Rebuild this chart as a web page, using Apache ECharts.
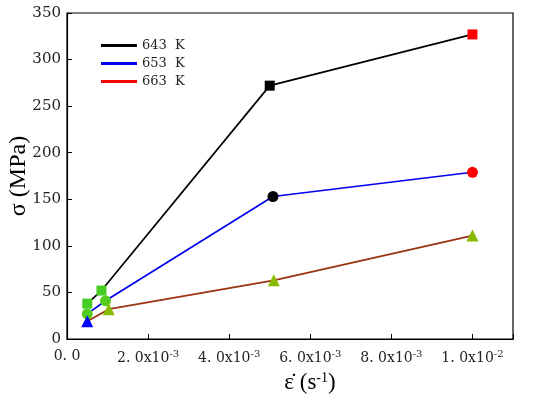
<!DOCTYPE html>
<html><head><meta charset="utf-8">
<script src="https://cdn.jsdelivr.net/npm/echarts@6/dist/echarts.min.js"></script>
<style>html,body{margin:0;padding:0;background:#fff}#c{width:550px;height:398px}</style>
</head><body><div id="c"></div>
<script>
const seriesNames = ['643 K', '653 K', '663 K'];
const lineColors = ['#000000', '#0000ee', '#993311'];
const legendColors = ['#000000', '#0000ee', '#ff0000'];
const symbols = ['rect', 'circle', 'triangle'];

const x643 = [0.0005, 0.00085, 0.005, 0.01];
const y643 = [38, 52, 272, 327];
const c643 = ['#44cc22', '#44cc22', '#000000', '#ff0000'];

const x653 = [0.0005, 0.00095, 0.00508, 0.01];
const y653 = [27, 41, 153, 179];
const c653 = ['#55cc22', '#55cc22', '#000000', '#ff0000'];

const x663 = [0.0005, 0.00103, 0.0051, 0.01];
const y663 = [19, 32, 63, 111];
const c663 = ['#0000ff', '#88bb00', '#88bb00', '#88bb00'];

const xTickValues = [0, 0.002, 0.004, 0.006, 0.008, 0.01];
const xTickLabels = ['0. 0', '2. 0x10{s|-3}', '4. 0x10{s|-3}', '6. 0x10{s|-3}', '8. 0x10{s|-3}', '1. 0x10{s|-2}'];
const yTicks = [0, 50, 100, 150, 200, 250, 300, 350];

const xs = [x643, x653, x663], ys = [y643, y653, y663], cs = [c643, c653, c663];
const sizes = [10, 11, 12];

const serif = '"Liberation Serif", "DejaVu Serif", serif';
const tickFont = '"DejaVu Serif", serif';

const series = seriesNames.map((name, i) => ({
  name, type: 'line', symbol: symbols[i], symbolSize: sizes[i],
  lineStyle: { color: lineColors[i], width: 1.7 },
  itemStyle: { color: legendColors[i] },
  data: xs[i].map((x, j) => ({ value: [x, ys[i][j]], itemStyle: { color: cs[i][j] } })),
  z: 3
}));

const chart = echarts.init(document.getElementById('c'), null, { renderer: 'canvas' });
chart.setOption({
  animation: false,
  backgroundColor: '#fff',
  grid: { left: 67, right: 37, top: 13, bottom: 59, containLabel: false, outerBoundsMode: 'none',
    show: true, borderColor: '#000', borderWidth: 1.2, backgroundColor: 'transparent' },
  legend: {
    left: 96, top: 34, orient: 'vertical', itemGap: 5, itemWidth: 36, itemHeight: 14,
    icon: 'path://M0,0 L10,0 L10,0.8 L0,0.8 Z',
    data: seriesNames.map((n, i) => ({ name: n, itemStyle: { color: legendColors[i] }, lineStyle: { color: legendColors[i] } })),
    textStyle: { fontFamily: tickFont, fontSize: 13, color: '#222' },
    formatter: n => n.replace(' ', '  ')
  },
  xAxis: {
    type: 'value', min: 0, max: 0.011, interval: 0.002,
    axisLine: { show: true, lineStyle: { color: '#000', width: 1.2 } },
    axisTick: { show: true, inside: true, length: 5, lineStyle: { color: '#000' } },
    splitLine: { show: false },
    axisLabel: {
      margin: 10, color: '#222', fontFamily: tickFont, fontSize: 14,
      formatter: v => { const k = xTickValues.findIndex(t => Math.abs(t - v) < 1e-9); return k >= 0 ? xTickLabels[k] : ''; },
      rich: { s: { fontSize: 10, verticalAlign: 'top', padding: [0, 0, 8, 0], fontFamily: tickFont, color: '#222' } }
    },
    name: 'ε̇ (s{s|-1})', nameLocation: 'middle', nameGap: 32, nameMoveOverlap: false,
    nameTextStyle: { fontFamily: serif, fontSize: 23, color: '#000', padding: [0, 0, 0, 40],
      rich: { s: { fontSize: 14, padding: [0, 0, 10, 0], fontFamily: serif, color: '#000' } } }
  },
  yAxis: {
    type: 'value', min: 0, max: 350, interval: 50,
    axisLine: { show: true, lineStyle: { color: '#000', width: 1.2 } },
    axisTick: { show: true, inside: true, length: 5, lineStyle: { color: '#000' } },
    splitLine: { show: false },
    axisLabel: { margin: 6, color: '#222', fontFamily: tickFont, fontSize: 15,
      formatter: v => yTicks.includes(v) ? String(v) : '' },
    name: 'σ (MPa)', nameLocation: 'middle', nameGap: 36, nameRotate: 90, nameMoveOverlap: false,
    nameTextStyle: { fontFamily: serif, fontSize: 24, color: '#000' }
  },
  series
});
</script></body></html>
